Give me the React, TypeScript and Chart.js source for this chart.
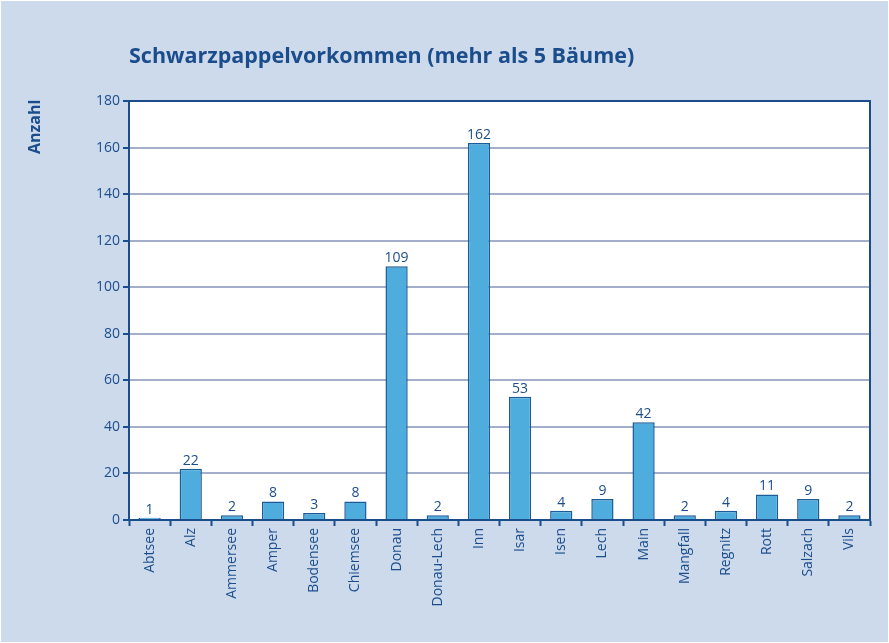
import React, { useEffect, useRef } from "react";
import { Chart, registerables } from "chart.js";

Chart.register(...registerables);

const categories = ["Abtsee", "Alz", "Ammersee", "Amper", "Bodensee", "Chiemsee", "Donau", "Donau-Lech", "Inn", "Isar", "Isen", "Lech", "Main", "Mangfall", "Regnitz", "Rott", "Salzach", "Vils"];
const counts = [1, 22, 2, 8, 3, 8, 109, 2, 162, 53, 4, 9, 42, 2, 4, 11, 9, 2];
const yTicks = [0, 20, 40, 60, 80, 100, 120, 140, 160, 180];
const titleText = "Schwarzpappelvorkommen (mehr als 5 Bäume)";
const yAxisTitle = "Anzahl";

const W = 889;
const H = 643;
const FONT = "'Open Sans', 'Noto Sans', sans-serif";
const DARK = "#1B4D8C";
const BG = "#CDDAEB";

const decorPlugin = {
  id: "decor",
  beforeDraw(chart: any) {
    const { ctx, chartArea: a } = chart;
    ctx.save();
    ctx.fillStyle = BG;
    ctx.fillRect(0, 0, chart.width, chart.height);
    ctx.strokeStyle = "#FFFFFF";
    ctx.lineWidth = 1;
    ctx.strokeRect(0.5, 0.5, chart.width - 1, chart.height - 1);
    ctx.fillStyle = "#FFFFFF";
    ctx.fillRect(a.left, a.top, a.right - a.left, a.bottom - a.top);
    // title
    ctx.fillStyle = DARK;
    ctx.font = `bold 21.5px ${FONT}`;
    ctx.textAlign = "left";
    ctx.textBaseline = "middle";
    ctx.fillText(titleText, 129, 57);
    // y axis title
    ctx.translate(35, 154);
    ctx.rotate(-Math.PI / 2);
    ctx.font = `bold 16px ${FONT}`;
    ctx.textAlign = "left";
    ctx.textBaseline = "middle";
    ctx.fillText(yAxisTitle, 0, 0);
    ctx.restore();
  },
  afterDraw(chart: any) {
    const { ctx, chartArea: a } = chart;
    ctx.save();
    ctx.strokeStyle = DARK;
    ctx.lineWidth = 2;
    ctx.beginPath();
    ctx.moveTo(a.left, a.top);
    ctx.lineTo(a.right, a.top);
    ctx.lineTo(a.right, a.bottom);
    ctx.stroke();
    // value labels
    const meta = chart.getDatasetMeta(0);
    ctx.fillStyle = DARK;
    ctx.font = `14px ${FONT}`;
    ctx.textAlign = "center";
    ctx.textBaseline = "bottom";
    meta.data.forEach((bar: any, i: number) => {
      ctx.fillText(String(counts[i]), bar.x, bar.y - 1);
    });
    ctx.restore();
  },
};

export default function App() {
  const ref = useRef<HTMLCanvasElement | null>(null);
  useEffect(() => {
    if (!ref.current) return;
    const chart = new Chart(ref.current, {
      type: "bar",
      data: {
        labels: categories,
        datasets: [
          {
            data: counts,
            backgroundColor: "#4EADDD",
            borderColor: "#1D5B98",
            borderWidth: 1.5,
            barPercentage: 0.54,
            categoryPercentage: 1,
          },
        ],
      },
      options: {
        responsive: false,
        animation: false,
        devicePixelRatio: 1,
        layout: { padding: { top: 101, right: 19, left: 0, bottom: 0 } },
        plugins: { legend: { display: false }, tooltip: { enabled: false }, title: { display: false } },
        scales: {
          x: {
            offset: true,
            grid: { display: true, drawOnChartArea: false, drawTicks: true, offset: true, tickLength: 6, tickColor: DARK, tickWidth: 2 },
            border: { display: true, color: DARK, width: 2 },
            ticks: { color: DARK, font: { family: FONT, size: 14 }, minRotation: 90, maxRotation: 90, autoSkip: false, padding: 2 },
            afterFit(scale: any) {
              scale.height = 123;
            },
          },
          y: {
            min: 0,
            max: 180,
            afterBuildTicks(scale: any) {
              scale.ticks = yTicks.map((v) => ({ value: v }));
            },
            grid: { color: "#A3AECB", lineWidth: 2, tickColor: DARK, tickLength: 6, tickWidth: 2 },
            border: { display: true, color: DARK, width: 2 },
            ticks: { color: DARK, font: { family: FONT, size: 14 }, padding: 3 },
            afterFit(scale: any) {
              scale.width = 129;
            },
          },
        },
      },
      plugins: [decorPlugin],
    });
    return () => chart.destroy();
  }, []);
  return (
    <div style={{ position: "fixed", left: 0, top: 0, width: W, height: H, background: BG }}>
      <canvas ref={ref} width={W} height={H} style={{ display: "block", width: W, height: H }} />
    </div>
  );
}
